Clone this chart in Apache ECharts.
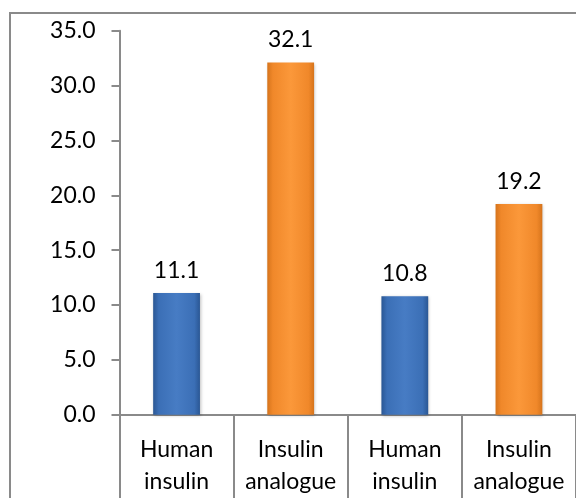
<!DOCTYPE html>
<html>
<head>
<meta charset="utf-8">
<script src="https://cdn.jsdelivr.net/npm/echarts@6/dist/echarts.min.js"></script>
<style>
html,body{margin:0;padding:0;background:#fff;}
#frame{position:absolute;left:9px;top:12px;width:600px;height:600px;border:2px solid #8a8a8a;box-sizing:border-box;}
#chart{position:absolute;left:0;top:0;width:576px;height:498px;}
</style>
</head>
<body>
<div id="frame"></div>
<div id="chart"></div>
<script>
var categories = ['Human\ninsulin', 'Insulin\nanalogue', 'Human\ninsulin', 'Insulin\nanalogue'];
var values = [11.1, 32.1, 10.8, 19.2];
var yTicks = [0, 5, 10, 15, 20, 25, 30, 35];

var blue = new echarts.graphic.LinearGradient(0, 0, 1, 0, [
  {offset: 0, color: '#2a5794'},
  {offset: 0.12, color: '#3b6fb6'},
  {offset: 0.5, color: '#477cc4'},
  {offset: 0.88, color: '#3b6fb6'},
  {offset: 1, color: '#2a5794'}
]);
var orange = new echarts.graphic.LinearGradient(0, 0, 1, 0, [
  {offset: 0, color: '#d6741c'},
  {offset: 0.12, color: '#f0882a'},
  {offset: 0.5, color: '#fb983a'},
  {offset: 0.88, color: '#f0882a'},
  {offset: 1, color: '#d6741c'}
]);
var colors = [blue, orange, blue, orange];

var FONT = 'Lato';
var FS = 23;

var chart = echarts.init(document.getElementById('chart'), null, {renderer: 'canvas'});
chart.setOption({
  backgroundColor: 'transparent',
  animation: false,
  grid: {left: 119.5, right: -2, top: 30.7, bottom: 83.3, containLabel: false},
  xAxis: {
    type: 'category',
    data: categories,
    boundaryGap: true,
    axisLine: {show: true, lineStyle: {color: '#8a8a8a', width: 2}},
    axisTick: {show: true, length: 90, lineStyle: {color: '#8a8a8a', width: 2}},
    axisLabel: {
      color: '#000', fontFamily: FONT, fontSize: FS, lineHeight: 32, margin: 19,
      interval: 0
    }
  },
  yAxis: {
    type: 'value',
    min: yTicks[0],
    max: yTicks[yTicks.length - 1],
    interval: 5,
    splitLine: {show: false},
    axisLine: {show: true, lineStyle: {color: '#8a8a8a', width: 2}},
    axisTick: {show: true, length: 8, lineStyle: {color: '#8a8a8a', width: 2}},
    axisLabel: {
      color: '#000', fontFamily: FONT, fontSize: FS, margin: 24,
      formatter: function (v) { return v.toFixed(1); }
    }
  },
  series: [{
    type: 'bar',
    barWidth: '41%',
    data: values.map(function (v, i) {
      return {value: v, itemStyle: {color: colors[i]}};
    }),
    itemStyle: {shadowColor: 'rgba(0,0,0,0.25)', shadowBlur: 3, shadowOffsetX: 1, shadowOffsetY: 1},
    label: {
      show: true, position: 'top', distance: 11,
      color: '#000', fontFamily: FONT, fontSize: FS,
      formatter: function (p) { return p.value.toFixed(1); }
    }
  }]
});
</script>
</body>
</html>
